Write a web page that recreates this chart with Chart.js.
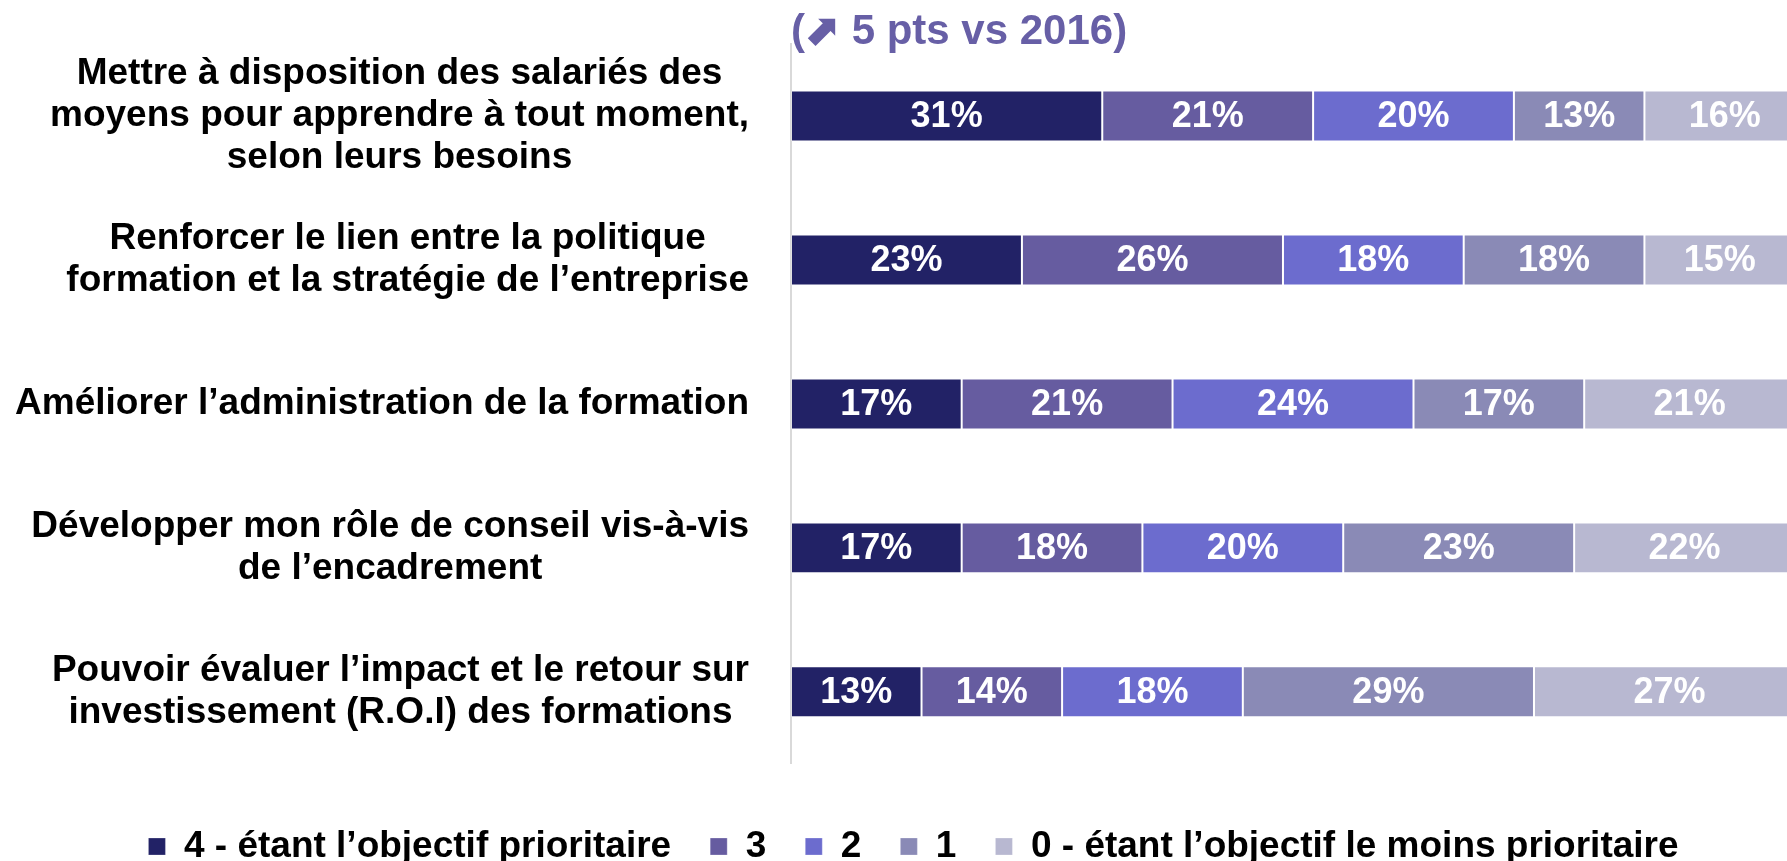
<!DOCTYPE html>
<html>
<head>
<meta charset="utf-8">
<title>Objectifs prioritaires</title>
<script src="https://cdn.jsdelivr.net/npm/chart.js"></script>
<style>
  body { margin: 0; background: #fff; }
  #wrap { position: relative; width: 1787px; height: 861px; }
</style>
</head>
<body>
<div id="wrap"><canvas id="prioChart"></canvas></div>
<script>
// categories (multi-line labels as in the slide)
const categories = [
  ["Mettre à disposition des salariés des", "moyens pour apprendre à tout moment,", "selon leurs besoins"],
  ["Renforcer le lien entre la politique", "formation et la stratégie de l’entreprise"],
  ["Améliorer l’administration de la formation"],
  ["Développer mon rôle de conseil vis-à-vis", "de l’encadrement"],
  ["Pouvoir évaluer l’impact et le retour sur", "investissement (R.O.I) des formations"],
];

const seriesNames = [
  "4 - étant l’objectif prioritaire",
  "3",
  "2",
  "1",
  "0 - étant l’objectif le moins prioritaire",
];

// % per category, one array per level
const level4 = [31, 23, 17, 17, 13];
const level3 = [21, 26, 21, 18, 14];
const level2 = [20, 18, 24, 20, 18];
const level1 = [13, 18, 17, 23, 29];
const level0 = [16, 15, 21, 22, 27];

const colors = ["#222266", "#665ca0", "#6c6cce", "#8a8ab6", "#b8b8d1"];
const titleText = "(⬈ 5 pts vs 2016)";

Chart.defaults.font.family = "'Liberation Sans', Arial, sans-serif";
Chart.defaults.font.weight = "bold";

const values = [level4, level3, level2, level1, level0];

// white % in the middle of each segment (full segment, even when clipped)
const segmentLabels = {
  id: "segmentLabels",
  afterDatasetsDraw(chart) {
    const ctx = chart.ctx;
    ctx.save();
    ctx.font = "bold 36px 'Liberation Sans', Arial, sans-serif";
    ctx.fillStyle = "#ffffff";
    ctx.textAlign = "center";
    ctx.textBaseline = "middle";
    chart.data.datasets.forEach((ds, di) => {
      const meta = chart.getDatasetMeta(di);
      meta.data.forEach((bar, i) => {
        const cx = (bar.x + bar.base) / 2;
        ctx.fillText(ds.data[i] + "%", cx, bar.y + 1);
      });
    });
    ctx.restore();
  },
};

// category labels: each block right aligned, its lines centered
const blockLabels = {
  id: "blockLabels",
  afterDraw(chart) {
    const ctx = chart.ctx;
    const yScale = chart.scales.y;
    const lineH = 42;
    ctx.save();
    ctx.font = "bold 37px 'Liberation Sans', Arial, sans-serif";
    ctx.fillStyle = "#000000";
    ctx.textAlign = "center";
    ctx.textBaseline = "middle";
    categories.forEach((lines, i) => {
      const y = yScale.getPixelForTick(i);
      const widest = Math.max(...lines.map((l) => ctx.measureText(l).width));
      const cx = yScale.right - 42 - widest / 2;
      lines.forEach((l, j) => {
        ctx.fillText(l, cx, y + (j - (lines.length - 1) / 2) * lineH);
      });
    });
    ctx.restore();
  },
};

new Chart(document.getElementById("prioChart").getContext("2d"), {
  type: "bar",
  data: {
    labels: categories,
    datasets: seriesNames.map((name, k) => ({
      label: name,
      data: values[k],
      backgroundColor: colors[k],
      borderColor: "rgba(255,255,255,0.25)",
      borderWidth: 1,
      borderSkipped: false,
      categoryPercentage: 1,
      barPercentage: 0.354,
    })),
  },
  options: {
    indexAxis: "y",
    responsive: true,
    maintainAspectRatio: false,
    animation: false,
    layout: { padding: { left: 40, right: 0, top: 0, bottom: -14 } },
    scales: {
      x: { stacked: true, display: false, min: 0, max: 99.2 },
      y: {
        stacked: true,
        grid: { display: false },
        border: { display: true, color: "#d9d9d9", width: 2 },
        ticks: { display: false },
        afterFit: (scale) => {
          scale.width = 751;
        },
      },
    },
    plugins: {
      title: {
        display: true,
        text: titleText,
        align: "start",
        fullSize: false,
        color: "#675fa6",
        font: { size: 42, weight: "bold", lineHeight: 0.548 },
        padding: { top: 21, bottom: 0 },
      },
      legend: {
        position: "bottom",
        title: { display: true, text: " ", font: { size: 1 }, padding: { top: 24, bottom: 0 } },
        labels: {
          color: "#000000",
          font: { size: 37, weight: "bold" },
          boxWidth: 17,
          boxHeight: 17,
          padding: 39,
        },
      },
      tooltip: { enabled: false },
    },
  },
  plugins: [segmentLabels, blockLabels],
});
</script>
</body>
</html>
